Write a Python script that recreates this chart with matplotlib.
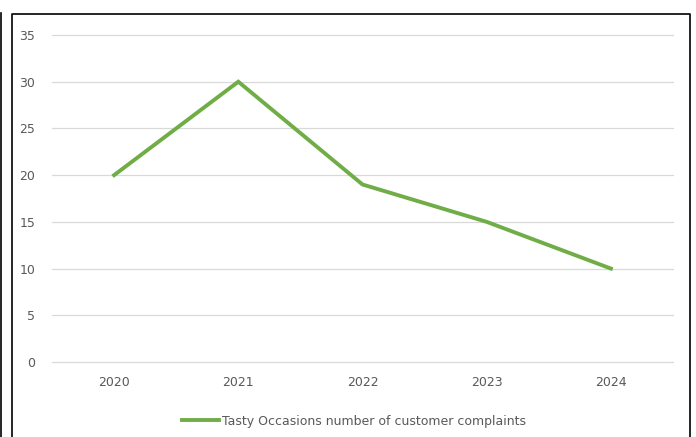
import matplotlib.pyplot as plt
from matplotlib.lines import Line2D

years = ['2020', '2021', '2022', '2023', '2024']
complaints = [20, 30, 19, 15, 10]
yticks = [0, 5, 10, 15, 20, 25, 30, 35]

W, H = 696, 437
fig = plt.figure(figsize=(W / 100, H / 100), dpi=100)
ax = fig.add_axes([52 / W, 1 - 362 / H, (673 - 52) / W, (362 - 35) / H])

x = list(range(len(years)))
ax.plot(x, complaints, color='#70AD47', linewidth=2.8, solid_joinstyle='miter',
        label='Tasty Occasions number of customer complaints')

ax.set_xlim(-0.5, len(years) - 0.5)
ax.set_ylim(0, 35)
ax.set_yticks(yticks)
ax.set_xticks(x)
ax.set_xticklabels(years)
ax.yaxis.grid(True, color='#D9D9D9', linewidth=0.9)
for gl in ax.get_ygridlines():
    gl.set_clip_on(False)
ax.set_axisbelow(True)
for s in ax.spines.values():
    s.set_visible(False)
ax.tick_params(length=0, labelsize=9, colors='#595959')
ax.tick_params(axis='y', pad=12)
ax.tick_params(axis='x', pad=10)

leg = fig.legend(loc='center', bbox_to_anchor=(0.508, 1 - 421 / H), frameon=False,
                 fontsize=9, handlelength=3.0, handletextpad=0.2)
for t in leg.get_texts():
    t.set_color('#595959')

# outer border lines
fig.add_artist(Line2D([12 / W, 12 / W, 690 / W, 690 / W], [0, 1 - 14 / H, 1 - 14 / H, 0],
                      transform=fig.transFigure, color='black', linewidth=1.2))
fig.add_artist(Line2D([1 / W, 1 / W], [0, 1 - 13 / H],
                      transform=fig.transFigure, color='black', linewidth=1.2))

fig.savefig('out.png', dpi=100)
